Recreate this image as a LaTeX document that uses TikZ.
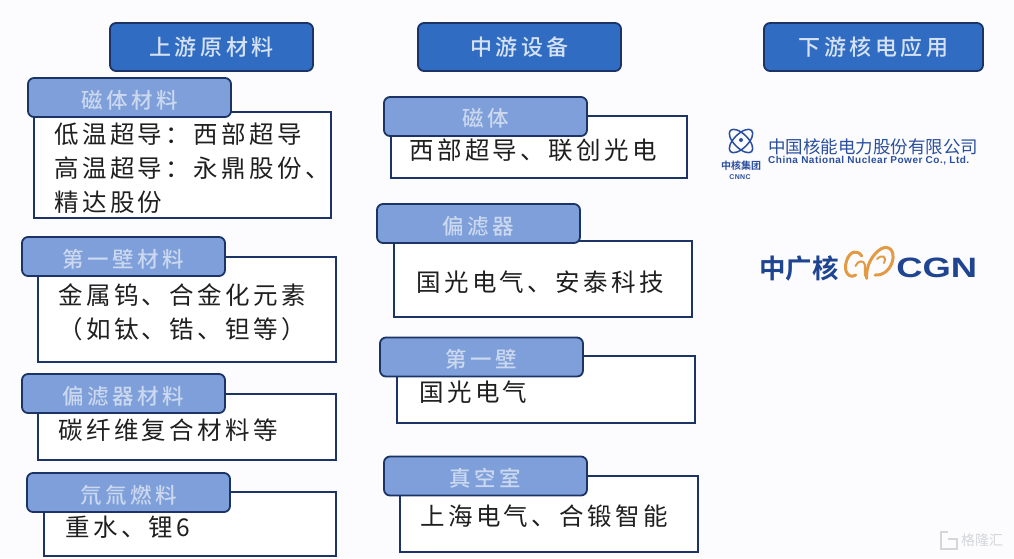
\documentclass[tikz,border=0pt]{standalone}
\usepackage{fontspec}
\setmainfont{Liberation Sans}
\newfontfamily\cjk[LetterSpace=14]{Noto Sans CJK SC}
\newfontfamily\cjkhead[LetterSpace=16]{Noto Sans CJK SC Medium}
\newfontfamily\cjklogo{Noto Sans CJK SC}
\newfontfamily\cjkbold{Noto Sans CJK SC Bold}
\newfontfamily\logolatin[LetterSpace=5]{Liberation Sans Bold}
\definecolor{edge}{HTML}{1B3465}
\definecolor{headfill}{HTML}{2F6CC2}
\definecolor{tabfill}{HTML}{7E9FD9}
\definecolor{headtext}{HTML}{D6E2F4}
\definecolor{tabtext}{HTML}{CBD8EF}
\definecolor{logoblue}{HTML}{2A4F9E}
\definecolor{cgnblue}{HTML}{1F4590}
\definecolor{cgnorange}{HTML}{E39A45}
\definecolor{wmark}{HTML}{D4D6D8}
\tikzset{
  x=1pt,y=-1pt,
  headbox/.style={draw=edge,line width=1.8pt,fill=headfill,rounded corners=6pt,inner sep=0pt,text=headtext,font=\fontsize{22}{22}\selectfont\cjkhead},
  tabbox/.style={draw=edge,line width=1.8pt,fill=tabfill,rounded corners=6pt,inner sep=0pt,minimum width=203pt,minimum height=39pt,text=tabtext,font=\fontsize{21.5}{21.5}\selectfont\cjkhead},
  contentbox/.style={draw=edge,line width=1.6pt,fill=white,inner sep=0pt},
  bodytext/.style={anchor=west,inner sep=0pt,text=black!88,font=\fontsize{24.5}{34}\selectfont\cjk,align=left},
  headlabel/.style={inner sep=0pt,text=headtext,font=\fontsize{22}{22}\selectfont\cjkhead},
  tablabel/.style={inner sep=0pt,text=tabtext,font=\fontsize{21.5}{21.5}\selectfont\cjkhead},
}
\begin{document}
\begin{tikzpicture}
\useasboundingbox (0,0) rectangle (1014,558);
\fill[white!99!blue] (0,0) rectangle (1014,558);
% column headers
\node[headbox,minimum width=203pt,minimum height=48pt,yshift=-2pt,text opacity=0] (h1) at (211.5,45) {};
\node[headlabel] (hl1) at (h1) {上游原材料};
\node[headbox,minimum width=203pt,minimum height=48pt,yshift=-2pt] (h2) at (519.5,45) {};
\node[headlabel] (hl2) at (h2) {中游设备};
\node[headbox,minimum width=219pt,minimum height=48pt,yshift=-2pt] (h3) at (873.5,45) {};
\node[headlabel] (hl3) at (h3) {下游核电应用};
% left column
\node[contentbox,minimum width=297pt,minimum height=106pt] (b1) at (182.5,165) {};
\node[tabbox] (t1) at (129.5,97.5) {};
\node[tablabel] (tl1) at (129.5,100) {磁体材料};
\node[bodytext] (x1) at (54,168) {低温超导：西部超导\\高温超导：永鼎股份、\\精达股份};
\node[contentbox,minimum width=298pt,minimum height=105pt] (b2) at (187,309.5) {};
\node[tabbox] (t2) at (123.5,256.5) {};
\node[tablabel] (tl2) at (123.5,259) {第一壁材料};
\node[bodytext] (x2) at (58,312) {金属钨、合金化元素\\（如钛、锆、钽等）};
\node[contentbox,minimum width=298pt,minimum height=66pt] (b3) at (187,427) {};
\node[tabbox] (t3) at (123.5,393.5) {};
\node[tablabel] (tl3) at (123.5,396) {偏滤器材料};
\node[bodytext] (x3) at (58,430) {碳纤维复合材料等};
\node[contentbox,minimum width=292pt,minimum height=64pt] (b4) at (190,524) {};
\node[tabbox] (t4) at (128.5,492.5) {};
\node[tablabel] (tl4) at (128.5,495) {氘氚燃料};
\node[bodytext] (x4) at (65,527) {重水、锂6};
% middle column
\node[contentbox,minimum width=296pt,minimum height=62pt] (b5) at (539,147) {};
\node[tabbox] (t5) at (485.5,116.5) {};
\node[tablabel] (tl5) at (485.5,118) {磁体};
\node[bodytext] (x5) at (409,150) {西部超导、联创光电};
\node[contentbox,minimum width=298pt,minimum height=76pt] (b6) at (543,279) {};
\node[tabbox] (t6) at (478.5,223.5) {};
\node[tablabel] (tl6) at (478.5,226) {偏滤器};
\node[bodytext] (x6) at (416,282) {国光电气、安泰科技};
\node[contentbox,minimum width=298pt,minimum height=67pt] (b7) at (546,389.5) {};
\node[tabbox] (t7) at (481.5,357) {};
\node[tablabel] (tl7) at (481.5,359) {第一壁};
\node[bodytext] (x7) at (419,392) {国光电气};
\node[contentbox,minimum width=298pt,minimum height=76pt] (b8) at (549,514) {};
\node[tabbox] (t8) at (485.5,476) {};
\node[tablabel] (tl8) at (485.5,478) {真空室};
\node[bodytext] (x8) at (420,516) {上海电气、合锻智能};
% CNNP logo
\begin{scope}[logoblue,line width=1.5pt]
\draw[rotate around={45:(741,141)}] (741,141) ellipse (15pt and 7pt);
\draw[rotate around={-45:(741,141)}] (741,141) ellipse (15pt and 7pt);
\fill (741,140) circle (2pt);
\end{scope}
\node[inner sep=0pt,text=logoblue,font=\fontsize{10}{10}\selectfont\cjkbold] (l1) at (741,165.5) {中核集团};
\node[inner sep=0pt,text=logoblue,font=\fontsize{7}{7}\selectfont\logolatin] (l2) at (740,177) {CNNC};
\node[inner sep=0pt,anchor=west,text=logoblue,font=\fontsize{17.5}{17.5}\selectfont\cjklogo] (l3) at (768,147) {中国核能电力股份有限公司};
\node[inner sep=0pt,anchor=west,text=logoblue,font=\fontsize{10}{10}\selectfont\logolatin] (l4) at (768,160.5) {China National Nuclear Power Co., Ltd.};
% CGN logo
\node[inner sep=0pt,anchor=west,text=cgnblue,font=\fontsize{26.5}{26.5}\selectfont\cjkbold] (c1) at (759,268) {中广核};
\begin{scope}[cgnorange,line cap=round,line width=3pt]
\draw (861.7,256) .. controls (858,250) and (850,250) .. (846.5,261) .. controls (843,272) and (849,279) .. (855.7,275);
\draw (866.7,278.3) .. controls (866,268) and (870,258) .. (878,251) .. controls (886,244) and (894,248) .. (893,258) .. controls (892,268) and (884,276) .. (875,275);
\draw[line width=2pt] (855.5,266) .. controls (858,260) and (864,260) .. (865,265) .. controls (865,270) and (864,276) .. (866.7,278.3);
\draw[line width=2pt] (877,259) .. controls (882,254) and (887,256) .. (884,263);
\end{scope}
\node[inner sep=0pt,anchor=west,text=cgnblue,font=\fontsize{28}{28}\selectfont\bfseries,xscale=1.3] (c2) at (896,268) {CGN};
% watermark
\draw[wmark,line width=1.6pt] (948,532) -- (941,532) -- (941,549) -- (957,549) -- (957,539) -- (948,539);
\node[inner sep=0pt,anchor=west,text=wmark,font=\fontsize{14}{14}\selectfont\cjklogo] (w1) at (961,540.5) {格隆汇};
\end{tikzpicture}
\end{document}
